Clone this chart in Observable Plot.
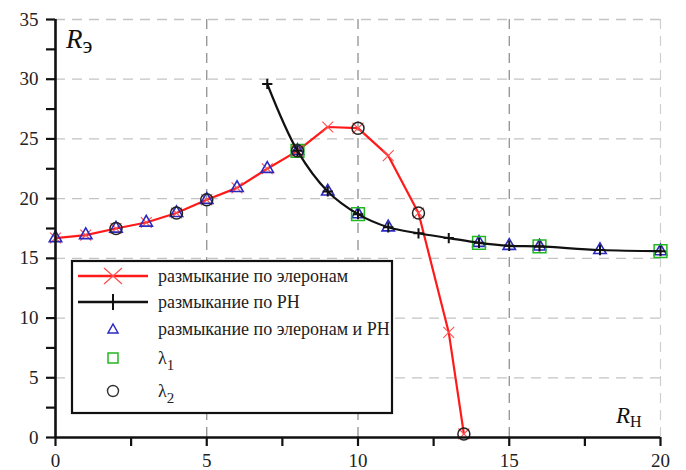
<!DOCTYPE html>
<html>
<head>
<meta charset="utf-8">
<script src="https://cdn.jsdelivr.net/npm/d3@7"></script>
<script src="https://cdn.jsdelivr.net/npm/@observablehq/plot@0.6"></script>
<style>
  html, body { margin: 0; padding: 0; background: #fff; }
  #chart { width: 686px; height: 470px; overflow: hidden; }
  #chart svg, #chart svg text { font-family: "Liberation Serif", "Times New Roman", Tinos, "DejaVu Serif", serif; }
</style>
</head>
<body>
<div id="chart"></div>
<script>
// ---- data ----
const xRed = [0, 1, 2, 3, 4, 5, 6, 7, 8, 9, 10, 11, 12, 13, 13.5];
const yRed = [16.7, 16.95, 17.5, 18.0, 18.8, 19.9, 20.9, 22.5, 24.0, 26.0, 25.9, 23.6, 18.8, 8.8, 0.3];

const xBlack = [7, 8, 9, 10, 11, 12, 13, 14, 15, 16, 18, 20];
const yBlack = [29.6, 24.0, 20.6, 18.7, 17.6, 17.1, 16.7, 16.3, 16.05, 16.0, 15.7, 15.6];

const xTri = [0, 1, 2, 3, 4, 5, 6, 7, 8, 9, 10, 11, 14, 15, 16, 18, 20];
const yTri = [16.7, 16.95, 17.5, 18.0, 18.8, 19.9, 20.9, 22.5, 24.0, 20.6, 18.7, 17.6, 16.3, 16.05, 16.0, 15.7, 15.6];

const xSq = [8, 10, 14, 16, 20];
const ySq = [24.0, 18.7, 16.3, 16.0, 15.6];

const xCirc = [2, 4, 5, 8, 10, 12, 13.5];
const yCirc = [17.5, 18.8, 19.9, 24.0, 25.9, 18.8, 0.3];

const xTicks = [0, 2.5, 5, 7.5, 10, 12.5, 15, 17.5, 20];
const xTickLabels = ["0", "", "5", "", "10", "", "15", "", "20"];
const yTicks = [0, 2.5, 5, 7.5, 10, 12.5, 15, 17.5, 20, 22.5, 25, 27.5, 30, 32.5, 35];
const yTickLabels = ["0", "", "5", "", "10", "", "15", "", "20", "", "25", "", "30", "", "35"];
const xGrid = [5, 10, 15];
const xGridEdge = [20];
const yGrid = [5, 10, 15, 20, 25, 30, 35];

const legendLabels = ["размыкание по элеронам", "размыкание по РН", "размыкание по элеронам и РН", "λ", "λ"];
const legendSubs = ["", "", "", "1", "2"];
const yLabel = ["R", "э"];
const xLabel = ["R", "Н"];

// ---- build tables ----
const zip = (xs, ys) => xs.map((x, i) => ({x, y: ys[i]}));
const red = zip(xRed, yRed);
const black = zip(xBlack, yBlack);
const tri = zip(xTri, yTri);
const sq = zip(xSq, ySq);
const circ = zip(xCirc, yCirc);

const FONT = '"Liberation Serif", "Times New Roman", Tinos, "DejaVu Serif", serif';
const RED = "#ff1a1a", BLUE = "#2a2ac0", GREEN = "#22b822";

const plot = Plot.plot({
  width: 686,
  height: 470,
  marginLeft: 55,
  marginRight: 26,
  marginTop: 19,
  marginBottom: 33,
  x: {domain: [0, 20]},
  y: {domain: [0, 35]},
  style: {fontFamily: FONT, fontSize: "19px", color: "#222", background: "white", overflow: "visible"},
  marks: [
    Plot.ruleY(yGrid, {stroke: "#c4c4c4", strokeWidth: 1.3, strokeDasharray: "10,7"}),
    Plot.ruleX(xGrid, {stroke: "#888", strokeWidth: 1.2, strokeDasharray: "10,7"}),
    Plot.ruleX(xGridEdge, {stroke: "#cfcfcf", strokeWidth: 1.2, strokeDasharray: "10,7"}),
    Plot.line(red, {x: "x", y: "y", stroke: RED, strokeWidth: 2.2}),
    Plot.dot(red, {x: "x", y: "y", symbol: "times", r: 5, stroke: "#ff5050", strokeWidth: 1.1}),
    Plot.dot(tri, {x: "x", y: "y", symbol: "triangle", r: 4.6, stroke: BLUE, strokeWidth: 1.6}),
    Plot.dot(sq, {x: "x", y: "y", symbol: "square", r: 7.2, stroke: GREEN, strokeWidth: 1.5}),
    Plot.line(black, {x: "x", y: "y", stroke: "#111", strokeWidth: 2.2, curve: "catmull-rom"}),
    Plot.dot(black, {x: "x", y: "y", symbol: "plus", r: 3.4, stroke: "#111", strokeWidth: 2}),
    Plot.dot(circ, {x: "x", y: "y", symbol: "circle", r: 6, stroke: "#222", strokeWidth: 1.5}),
    Plot.ruleX([0], {stroke: "#111", strokeWidth: 2.6}),
    Plot.ruleY([0], {stroke: "#111", strokeWidth: 2.6}),
    Plot.axisY(yTicks, {tickSize: 9, tickPadding: 8, strokeWidth: 2.2, stroke: "#111", fill: "#222",
      tickFormat: (d) => yTickLabels[yTicks.indexOf(d)], fontSize: 19, label: null}),
    Plot.axisX(xTicks, {tickSize: 9, tickPadding: 7, strokeWidth: 2.2, stroke: "#111", fill: "#222",
      tickFormat: (d) => xTickLabels[xTicks.indexOf(d)], fontSize: 19, label: null})
  ]
});

document.getElementById("chart").appendChild(plot);

// ---- overlay: axis titles and legend ----
const svg = d3.select(plot);
const sx = (v) => plot.scale("x").apply(v);
const sy = (v) => plot.scale("y").apply(v);

// Y title  R_э
const yt = svg.append("text").attr("x", sx(0) + 11).attr("y", sy(35) + 29)
  .attr("text-anchor", "start").style("font-family", FONT).attr("fill", "#111");
yt.append("tspan").attr("font-style", "italic").attr("font-size", 27).text(yLabel[0]);
yt.append("tspan").attr("font-size", 23).attr("dy", 5).text(yLabel[1]);

// X title  R_Н
const xt = svg.append("text").attr("x", sx(20) - 44).attr("y", sy(0) - 14)
  .attr("text-anchor", "start").style("font-family", FONT).attr("fill", "#111");
xt.append("tspan").attr("font-style", "italic").attr("font-size", 23).text(xLabel[0]);
xt.append("tspan").attr("font-size", 16).attr("dy", 4).text(xLabel[1]);

// legend
const L = {x: 72, y: 261, w: 320, h: 152};
const lg = svg.append("g");
lg.append("rect").attr("x", L.x).attr("y", L.y).attr("width", L.w).attr("height", L.h)
  .attr("fill", "white").attr("stroke", "#111").attr("stroke-width", 2.2);
const rowY = [15, 41, 68, 97, 130].map(d => L.y + d);
const symX = L.x + 41, lineX0 = L.x + 6, lineX1 = L.x + 76, textX = L.x + 86;

// row 1: red line + x
lg.append("line").attr("x1", lineX0).attr("x2", lineX1).attr("y1", rowY[0]).attr("y2", rowY[0])
  .attr("stroke", RED).attr("stroke-width", 2.6);
lg.append("path").attr("transform", `translate(${symX},${rowY[0]})`)
  .attr("d", "M-9,-8L9,8M-9,8L9,-8").attr("stroke", "#ff5050").attr("stroke-width", 1.3).attr("fill", "none");
// row 2: black line + plus
lg.append("line").attr("x1", lineX0).attr("x2", lineX1).attr("y1", rowY[1]).attr("y2", rowY[1])
  .attr("stroke", "#111").attr("stroke-width", 2.6);
lg.append("path").attr("transform", `translate(${symX},${rowY[1]})`)
  .attr("d", "M-5,0L5,0M0,-8L0,8").attr("stroke", "#111").attr("stroke-width", 2).attr("fill", "none");
// row 3: triangle
lg.append("path").attr("transform", `translate(${symX},${rowY[2]})`)
  .attr("d", "M0,-5L5,4L-5,4Z").attr("stroke", BLUE).attr("stroke-width", 1.5).attr("fill", "none");
// row 4: square
lg.append("rect").attr("x", symX - 5).attr("y", rowY[3] - 5).attr("width", 10).attr("height", 10)
  .attr("stroke", GREEN).attr("stroke-width", 1.5).attr("fill", "none");
// row 5: circle
lg.append("circle").attr("cx", symX).attr("cy", rowY[4]).attr("r", 5.5)
  .attr("stroke", "#333").attr("stroke-width", 1.4).attr("fill", "none");

legendLabels.forEach((t, i) => {
  const tx = lg.append("text").attr("x", textX).attr("y", rowY[i]).attr("dy", "0.32em")
    .attr("text-anchor", "start").style("font-family", FONT).attr("font-size", 18).attr("fill", "#222");
  tx.append("tspan").text(t);
  if (legendSubs[i]) tx.append("tspan").attr("dy", 6).attr("font-size", 15).text(legendSubs[i]);
});
</script>
</body>
</html>
